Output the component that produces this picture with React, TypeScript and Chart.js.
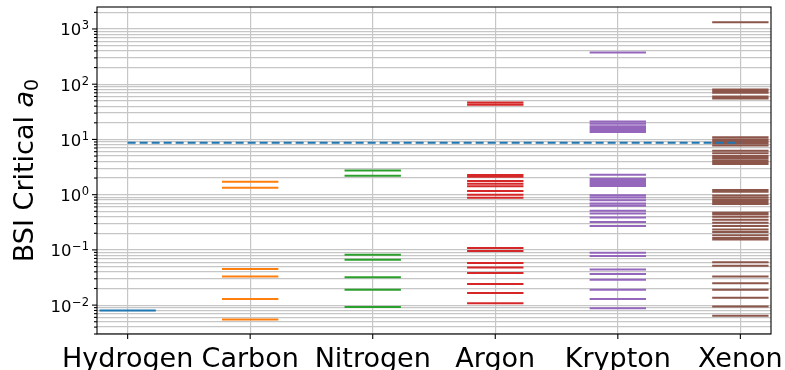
import React, { useEffect, useRef } from "react";
import { Chart, registerables } from "chart.js";

Chart.register(...registerables);

const categories = ["Hydrogen", "Carbon", "Nitrogen", "Argon", "Krypton", "Xenon"];
const hydrogen = [0.008];
const carbon = [1.71, 1.33, 0.045, 0.033, 0.0129, 0.0055];
const nitrogen = [2.74, 2.2, 0.0815, 0.0662, 0.0321, 0.0189, 0.0092];
const argon = [46.5, 42.5, 2.28, 2.12, 1.76, 1.58, 1.42, 1.16, 1.0, 0.88, 0.108, 0.095, 0.058, 0.048, 0.038, 0.024, 0.0165, 0.0108];
const krypton = [375, 21.2, 19.2, 17.4, 15.9, 14.6, 13.6, 2.3, 1.94, 1.78, 1.64, 1.52, 1.43, 0.98, 0.89, 0.79, 0.69, 0.63, 0.51, 0.456, 0.386, 0.319, 0.27, 0.0885, 0.0772, 0.0442, 0.0365, 0.0287, 0.0189, 0.0129, 0.0088];
const xenon = [1320, 80, 75, 70, 60, 55, 10.9, 10.0, 9.2, 8.5, 7.8, 6.24, 5.6, 5.0, 4.6, 4.2, 3.85, 3.58, 1.22, 1.13, 0.97, 0.88, 0.8, 0.74, 0.68, 0.47, 0.44, 0.4, 0.35, 0.31, 0.27, 0.235, 0.21, 0.185, 0.165, 0.155, 0.06, 0.0515, 0.033, 0.025, 0.0189, 0.0136, 0.0094, 0.0064];
const threshold = 8.7;
const seriesValues = [hydrogen, carbon, nitrogen, argon, krypton, xenon];
const seriesColors = ["#1f77b4", "#ff7f0e", "#2ca02c", "#d62728", "#9467bd", "#8c564b"];
const yMajorTicks = [0.01, 0.1, 1, 10, 100, 1000];
const yTickExponents = ["−2", "−1", "0", "1", "2", "3"];
const Y_MIN = 0.003;
const Y_MAX = 2500;
const HALF = 0.23;

function segments(i: number, vals: number[]) {
  const pts: { x: number; y: number | null }[] = [];
  vals.forEach((v) => {
    pts.push({ x: i - HALF, y: v }, { x: i + HALF, y: v }, { x: i, y: null });
  });
  return pts;
}

function majorIndex(v: number) {
  for (let k = 0; k < yMajorTicks.length; k++) {
    if (Math.abs(v - yMajorTicks[k]) / yMajorTicks[k] < 1e-6) return k;
  }
  return -1;
}

const framePlugin = {
  id: "frameAndLabels",
  afterDraw(chart: any) {
    const { ctx, chartArea } = chart;
    const { left, right, top, bottom } = chartArea;
    const xs = chart.scales.x;
    const ys = chart.scales.y;
    ctx.save();
    ctx.strokeStyle = "#000";
    ctx.lineWidth = 1.1;
    ctx.strokeRect(left, top, right - left, bottom - top);
    ys.ticks.forEach((t: any) => {
      const py = ys.getPixelForValue(t.value);
      const len = majorIndex(t.value) >= 0 ? 5 : 3;
      ctx.beginPath();
      ctx.moveTo(left - len, py);
      ctx.lineTo(left, py);
      ctx.stroke();
    });
    xs.ticks.forEach((t: any) => {
      const px = xs.getPixelForValue(t.value);
      ctx.beginPath();
      ctx.moveTo(px, bottom);
      ctx.lineTo(px, bottom + 5);
      ctx.stroke();
    });
    // y tick labels: 10 with superscript exponent
    ctx.fillStyle = "#000";
    ctx.textBaseline = "alphabetic";
    ctx.textAlign = "right";
    yMajorTicks.forEach((v, k) => {
      const py = ys.getPixelForValue(v);
      const xr = left - 8;
      ctx.font = `11.5px "DejaVu Sans"`;
      const ew = ctx.measureText(yTickExponents[k]).width;
      ctx.fillText(yTickExponents[k], xr, py + 0.5);
      ctx.font = `16.5px "DejaVu Sans"`;
      ctx.fillText("10", xr - ew - 0.5, py + 6.5);
    });
    // y axis title
    const fs = 27;
    const main = "BSI Critical ";
    ctx.textAlign = "left";
    ctx.font = `${fs}px "DejaVu Sans"`;
    const w1 = ctx.measureText(main).width;
    ctx.font = `italic ${fs}px "DejaVu Sans"`;
    const w2 = ctx.measureText("a").width;
    ctx.font = `${Math.round(fs * 0.7)}px "DejaVu Sans"`;
    const w3 = ctx.measureText("0").width;
    const total = w1 + w2 + w3;
    ctx.translate(33, (top + bottom) / 2);
    ctx.rotate(-Math.PI / 2);
    let cx = -total / 2;
    ctx.font = `${fs}px "DejaVu Sans"`;
    ctx.fillText(main, cx, 0);
    cx += w1;
    ctx.font = `italic ${fs}px "DejaVu Sans"`;
    ctx.fillText("a", cx, 0);
    cx += w2;
    ctx.font = `${Math.round(fs * 0.7)}px "DejaVu Sans"`;
    ctx.fillText("0", cx, 5);
    ctx.restore();
  },
};

export default function App() {
  const ref = useRef<HTMLCanvasElement | null>(null);
  useEffect(() => {
    if (!ref.current) return;
    const datasets: any[] = [
      {
        label: "threshold",
        data: [
          { x: 0, y: threshold },
          { x: 5, y: threshold },
        ],
        borderColor: "#1f77b4",
        borderWidth: 2,
        borderDash: [8, 4],
        pointRadius: 0,
        showLine: true,
      },
    ];
    seriesValues.forEach((vals, i) => {
      datasets.push({
        label: categories[i],
        data: segments(i, vals),
        borderColor: seriesColors[i],
        borderWidth: 2,
        pointRadius: 0,
        showLine: true,
        spanGaps: false,
        borderCapStyle: "butt",
      });
    });
    const chart = new Chart(ref.current, {
      type: "scatter",
      data: { datasets },
      options: {
        animation: false,
        responsive: false,
        layout: { padding: { left: 0, top: 7, right: 14, bottom: 0 } },
        plugins: { legend: { display: false }, tooltip: { enabled: false } },
        scales: {
          x: {
            type: "linear",
            min: -0.25,
            max: 5.25,
            afterBuildTicks: (s: any) => {
              s.ticks = categories.map((_, i) => ({ value: i }));
            },
            afterFit: (s: any) => {
              s.height = 36;
              s.paddingLeft = 0;
              s.paddingRight = 0;
            },
            ticks: {
              autoSkip: false,
              minRotation: 0,
              maxRotation: 0,
              padding: 10,
              color: "#000",
              font: { family: "DejaVu Sans", size: 27 },
              callback: (v: any) => categories[Math.round(Number(v))] ?? "",
            },
            grid: { color: "#c6c6c6", lineWidth: 1.2, drawTicks: false },
            border: { display: false },
          },
          y: {
            type: "logarithmic",
            min: Y_MIN,
            max: Y_MAX,
            afterBuildTicks: (s: any) => {
              const t: any[] = [];
              for (let e = -3; e <= 3; e++) {
                for (let m = 1; m <= 9; m++) {
                  const v = m * Math.pow(10, e);
                  if (v >= Y_MIN && v <= Y_MAX) t.push({ value: v });
                }
              }
              s.ticks = t;
            },
            afterFit: (s: any) => {
              s.width = 97;
              s.paddingTop = 0;
              s.paddingBottom = 0;
            },
            ticks: {
              autoSkip: false,
              display: false,
            },
            grid: { color: "#c6c6c6", lineWidth: 1.2, drawTicks: false },
            border: { display: false },
          },
        },
      },
      plugins: [framePlugin],
    } as any);
    return () => chart.destroy();
  }, []);
  return (
    <div style={{ position: "absolute", left: 0, top: 0, width: 785, height: 370, background: "#fff" }}>
      <canvas ref={ref} width={785} height={370} style={{ display: "block" }} />
    </div>
  );
}
